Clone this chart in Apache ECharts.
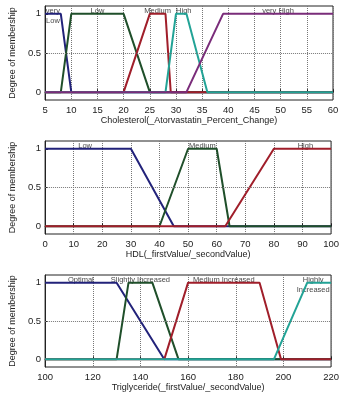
<!DOCTYPE html>
<html><head><meta charset="utf-8">
<script src="https://cdn.jsdelivr.net/npm/echarts@6/dist/echarts.min.js"></script>
<style>html,body{margin:0;padding:0;background:#fff}#c{width:342px;height:394px}</style>
</head><body><div id="c"></div>
<script>
// ---- Chart 1: Cholesterol ----
const cholAxis = [5, 60, 5];
const cholName = 'Cholesterol(_Atorvastatin_Percent_Change)';
const cholMF = ['very\nLow', 'Low', 'Medium', 'High', 'very High'];
const cholX = [[5, 8, 10, 60], [5, 8, 10, 20, 25, 60], [5, 20, 25, 28, 29, 60], [5, 28, 30, 32, 36, 60], [5, 32, 39, 60]];
const cholY = [[1, 1, 0, 0], [0, 0, 1, 1, 0, 0], [0, 0, 1, 1, 0, 0], [0, 0, 1, 1, 0, 0], [0, 0, 1, 1]];
const cholLabelX = [6.5, 15, 26.5, 31.5, 49.5];

// ---- Chart 2: HDL ----
const hdlAxis = [0, 100, 10];
const hdlName = 'HDL(_firstValue/_secondValue)';
const hdlMF = ['Low', 'Medium', 'High'];
const hdlX = [[0, 30, 45, 100], [0, 40, 50, 60, 64.5, 100], [0, 63, 80, 100]];
const hdlY = [[1, 1, 0, 0], [0, 0, 1, 1, 0, 0], [0, 0, 1, 1]];
const hdlLabelX = [14, 55, 91];

// ---- Chart 3: Triglyceride ----
const trigAxis = [100, 220, 20];
const trigName = 'Triglyceride(_firstValue/_secondValue)';
const trigMF = ['Optimal', 'Slightly Increased', 'Medium Increased', 'Highly\nIncreased'];
const trigX = [[100, 130, 150, 220], [100, 130, 135, 145, 156, 220], [100, 150, 160, 190, 199, 220], [100, 196, 210, 220]];
const trigY = [[1, 1, 0, 0], [0, 0, 1, 1, 0, 0], [0, 0, 1, 1, 0, 0], [0, 0, 1, 1]];
const trigLabelX = [115, 140, 175, 212.5];

const yTicks = [0, 0.5, 1];
const yRange = [-0.1, 1.1];

const colors5 = ['#22227a', '#1f4f2a', '#a01e2a', '#22a396', '#7a2c7a'];
const colors3 = ['#22227a', '#1f4f2a', '#a01e2a'];
const colors4 = ['#22227a', '#1f4f2a', '#a01e2a', '#22a396'];

const FONT = 'Liberation Sans, Arial, sans-serif';
const charts = [
  {axis: cholAxis, name: cholName, mf: cholMF, xs: cholX, ys: cholY, lx: cholLabelX, colors: colors5, top: 6, height: 94},
  {axis: hdlAxis, name: hdlName, mf: hdlMF, xs: hdlX, ys: hdlY, lx: hdlLabelX, colors: colors3, top: 141, height: 93},
  {axis: trigAxis, name: trigName, mf: trigMF, xs: trigX, ys: trigY, lx: trigLabelX, colors: colors4, top: 275, height: 92}
];

const grid = [], xAxis = [], yAxis = [], series = [];
charts.forEach((c, i) => {
  grid.push({left: 34, right: 9, top: c.top, height: c.height, show: true, borderColor: '#222', borderWidth: 1, backgroundColor: '#fff'});
  xAxis.push({
    type: 'value', gridIndex: i, min: c.axis[0], max: c.axis[1], interval: c.axis[2],
    name: c.name, nameLocation: 'middle', nameGap: 15,
    nameTextStyle: {fontSize: 9, color: '#222', fontFamily: FONT},
    axisLine: {lineStyle: {color: '#222'}},
    axisTick: {inside: true, length: 3, lineStyle: {color: '#222'}},
    axisLabel: {fontSize: 9.5, color: '#222', margin: 5, fontFamily: FONT},
    splitLine: {show: true, lineStyle: {type: 'dotted', color: '#777', width: 1}}
  });
  yAxis.push({
    type: 'value', gridIndex: i, min: yRange[0], max: yRange[1],
    name: 'Degree of membership', nameLocation: 'middle', nameGap: 19,
    nameTextStyle: {fontSize: 9, color: '#222', fontFamily: FONT},
    axisLine: {lineStyle: {color: '#222'}},
    axisTick: {inside: true, length: 3, customValues: yTicks, lineStyle: {color: '#222'}},
    axisLabel: {fontSize: 9.5, color: '#222', margin: 4, customValues: yTicks, fontFamily: FONT},
    splitLine: {show: false}
  });
  c.xs.forEach((xs, k) => {
    const s = {
      type: 'line', xAxisIndex: i, yAxisIndex: i, symbol: 'none', silent: true,
      data: xs.map((x, j) => [x, c.ys[k][j]]),
      lineStyle: {color: c.colors[k], width: 2}, animation: false
    };
    if (k === 0) {
      s.markLine = {silent: true, symbol: 'none', label: {show: false},
        lineStyle: {type: 'dotted', color: '#777', width: 1}, data: [{yAxis: 0.5}], animation: false};
    }
    series.push(s);
  });
  series.push({
    type: 'scatter', xAxisIndex: i, yAxisIndex: i, symbolSize: 0, silent: true, animation: false,
    data: c.lx.map((x, k) => ({value: [x, yRange[1]], name: c.mf[k]})),
    label: {show: true, position: 'bottom', distance: 0, formatter: p => p.name,
      fontSize: 7.5, lineHeight: 10, color: '#111', fontFamily: FONT}
  });
});

const chart = echarts.init(document.getElementById('c'), null, {renderer: 'canvas'});
chart.setOption({animation: false, backgroundColor: '#fff', grid, xAxis, yAxis, series});
</script>
</body></html>
